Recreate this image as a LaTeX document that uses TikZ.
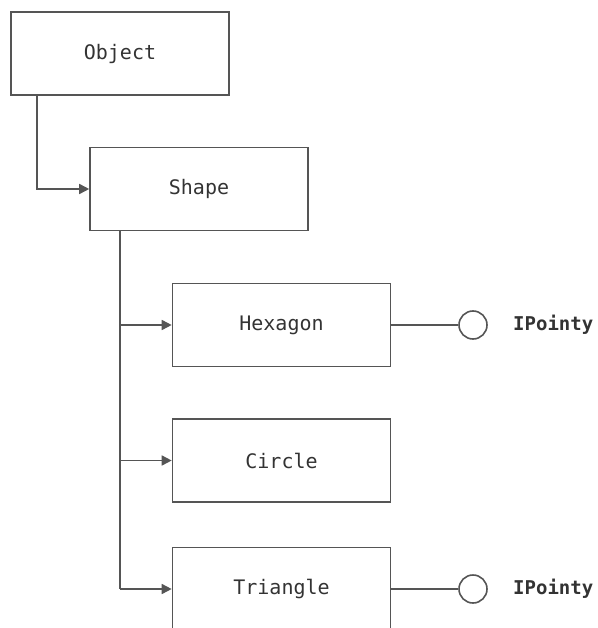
\documentclass[tikz,border=0pt]{standalone}
\usepackage{fontspec}
\setmonofont{DejaVu Sans Mono}
\usetikzlibrary{arrows.meta}
\definecolor{linegray}{HTML}{555555}
\definecolor{textgray}{HTML}{333333}
\begin{document}
\begin{tikzpicture}[x=1pt,y=-1pt,
  classbox/.style={draw=linegray, line width=1.6pt, minimum width=218pt,
    minimum height=83pt, inner sep=0pt, text=textgray,
    font=\ttfamily\fontsize{20}{24}\selectfont},
  link/.style={draw=linegray, line width=1.6pt},
  inherit/.style={link, -{Triangle[length=10pt,width=10pt]}},
  iface/.style={circle, draw=linegray, line width=1.6pt, minimum size=28pt, inner sep=0pt},
  ifacelabel/.style={anchor=west, inner sep=0pt, text=textgray,
    font=\ttfamily\bfseries\fontsize{19}{23}\selectfont}]
\useasboundingbox (0,0) rectangle (597,628);
\begin{scope}
\clip (0,0) rectangle (597,628);
% class boxes
\node[classbox] (object)   at (120,53.5)  {Object};
\node[classbox] (shape)    at (199,189)   {Shape};
\node[classbox] (hexagon)  at (281.5,325) {Hexagon};
\node[classbox] (circ)     at (281.5,460.5) {Circle};
\node[classbox] (triangle) at (281.5,589) {Triangle};
% inheritance connectors
\coordinate (objdown) at ([xshift=27pt]object.south west);
\coordinate (shpdown) at ([xshift=31pt]shape.south west);
\draw[inherit] (objdown) |- (shape.west);
\draw[link] (shpdown) -- (shpdown |- triangle.west);
\draw[inherit] (shpdown |- hexagon.west) -- (hexagon.west);
\draw[inherit] (shpdown |- circ.west) -- (circ.west);
\draw[inherit] (shpdown |- triangle.west) -- (triangle.west);
% interface lollipops
\node[iface] (ihex) at (473,325) {};
\node[iface] (itri) at (473,589) {};
\draw[link] (hexagon.east) -- (ihex.west);
\draw[link] (triangle.east) -- (itri.west);
\node[ifacelabel] (lhex) at (513,325) {IPointy};
\node[ifacelabel] (ltri) at (513,589) {IPointy};
\end{scope}
\end{tikzpicture}
\end{document}
